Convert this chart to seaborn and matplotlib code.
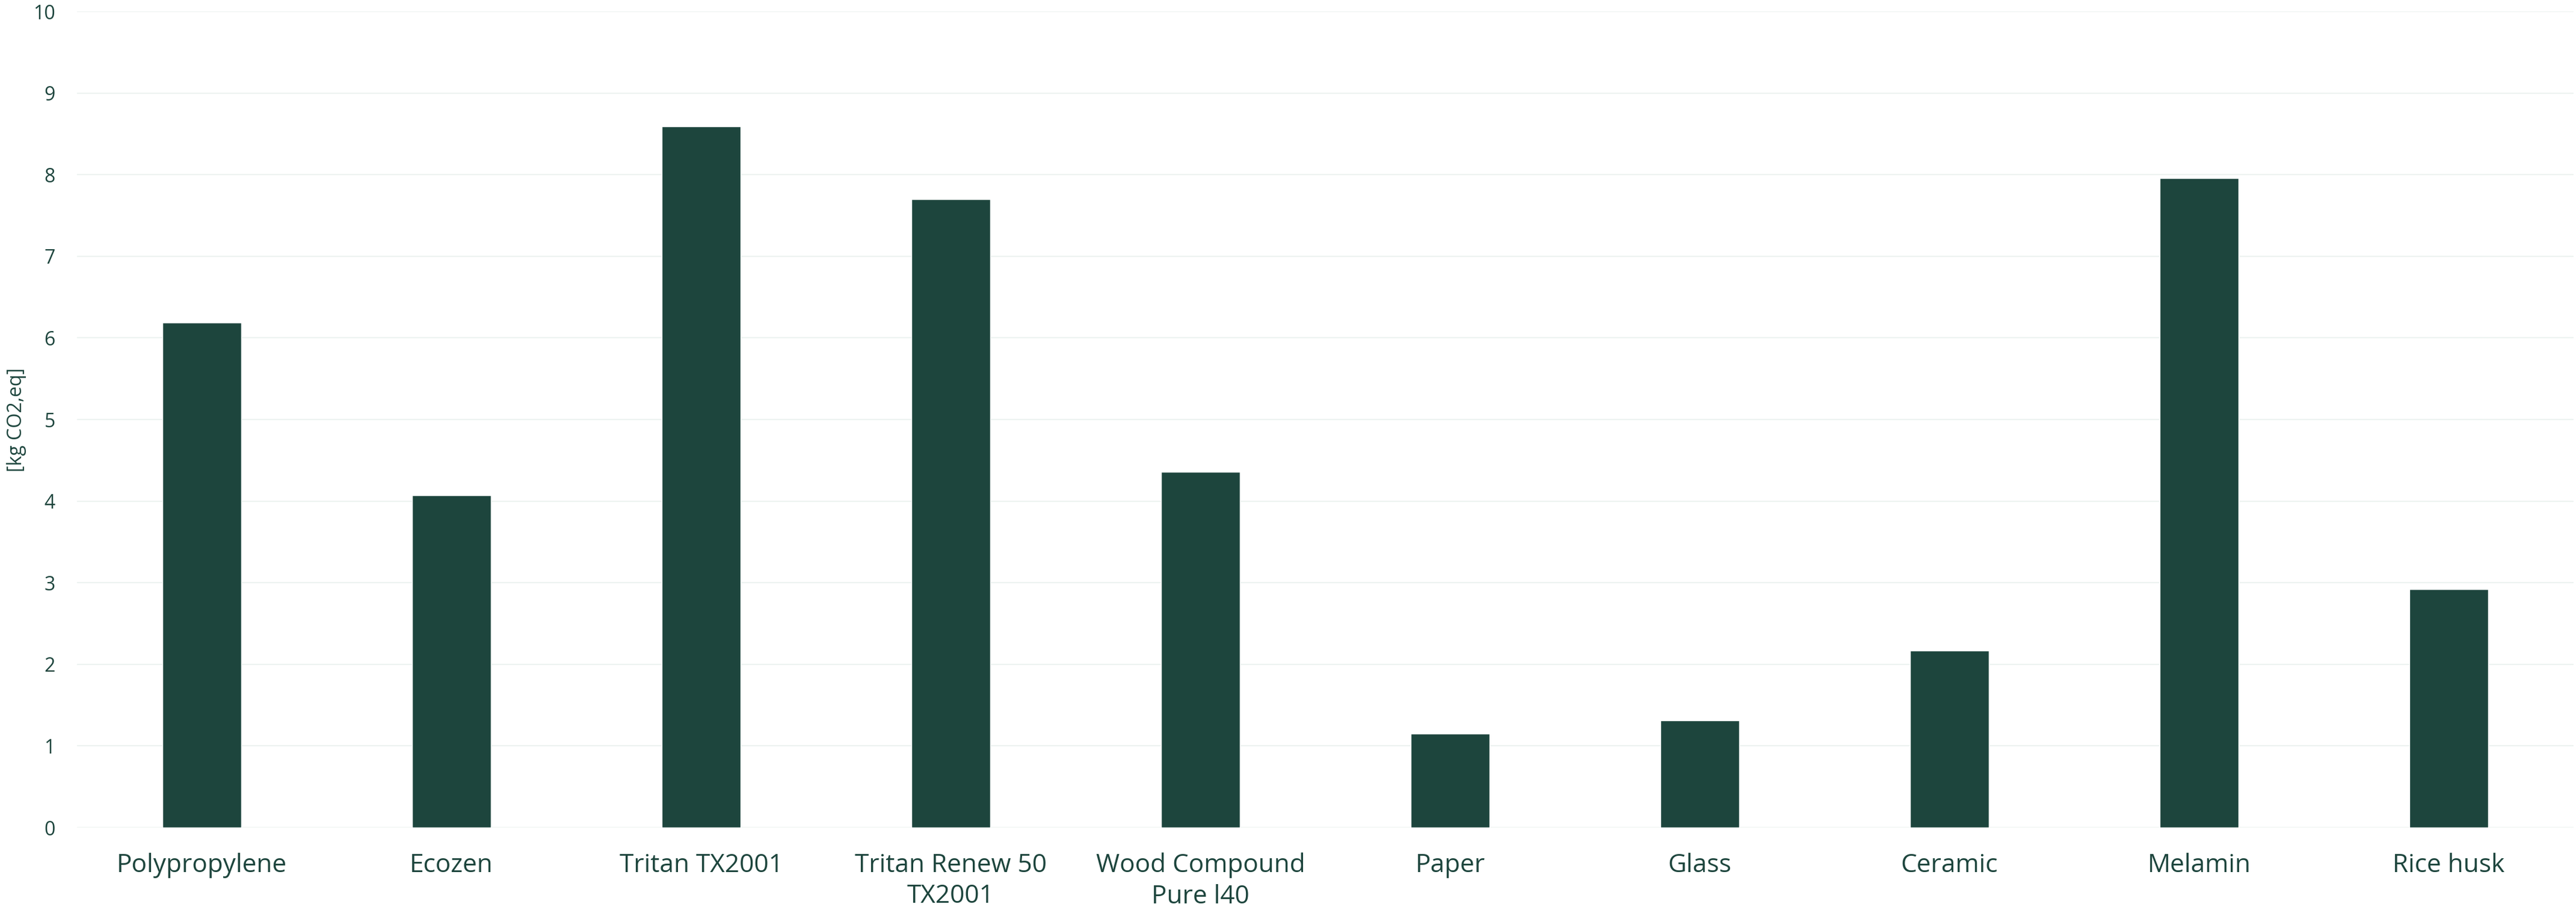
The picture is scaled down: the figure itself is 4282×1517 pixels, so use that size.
import matplotlib
matplotlib.use("Agg")
import matplotlib.pyplot as plt
import seaborn as sns
import pandas as pd

categories = ["Polypropylene", "Ecozen", "Tritan TX2001", "Tritan Renew 50\nTX2001",
              "Wood Compound\nPure l40", "Paper", "Glass", "Ceramic", "Melamin", "Rice husk"]
values = [6.19, 4.07, 8.59, 7.70, 4.36, 1.15, 1.31, 2.17, 7.96, 2.92]
y_ticks = [0, 1, 2, 3, 4, 5, 6, 7, 8, 9, 10]
y_label = "[kg CO2,eq]"

BAR = "#1D453D"
TEXT = "#1D453D"
GRID = "#EDF3F1"

sns.set_theme(style="white")
plt.rcParams['font.family'] = ['Open Sans', 'DejaVu Sans']

df = pd.DataFrame({"cat": categories, "val": values})

fig = plt.figure(figsize=(42.82, 15.17), dpi=100)
ax = fig.add_axes([128/4282, 1 - 1375/1517, (4278-128)/4282, (1375-19)/1517])

sns.barplot(data=df, x="cat", y="val", color=BAR, saturation=1, width=0.315, ax=ax, zorder=3)

ax.set_ylim(0, 10)
ax.set_xlim(-0.5, len(categories) - 0.5)
ax.set_yticks(y_ticks)
ax.set_yticklabels([str(t) for t in y_ticks])
ax.yaxis.grid(True, color=GRID, linewidth=1.6, zorder=0)
ax.xaxis.grid(False)
ax.set_axisbelow(True)
for s in ax.spines.values():
    s.set_visible(False)

ax.tick_params(axis="y", length=0, pad=26, labelsize=23, labelcolor=TEXT)
ax.tick_params(axis="x", length=0, pad=30, labelsize=30.5, labelcolor=TEXT)
for lbl in ax.get_xticklabels():
    lbl.set_linespacing(1.3)

ax.set_xlabel("")
ax.set_ylabel("")
fig.text(27/4282, 1 - 697/1517, y_label, rotation=90, rotation_mode="anchor",
         ha="center", va="center", fontsize=23, color=TEXT)

fig.savefig("out.png", dpi=100, facecolor="white")
